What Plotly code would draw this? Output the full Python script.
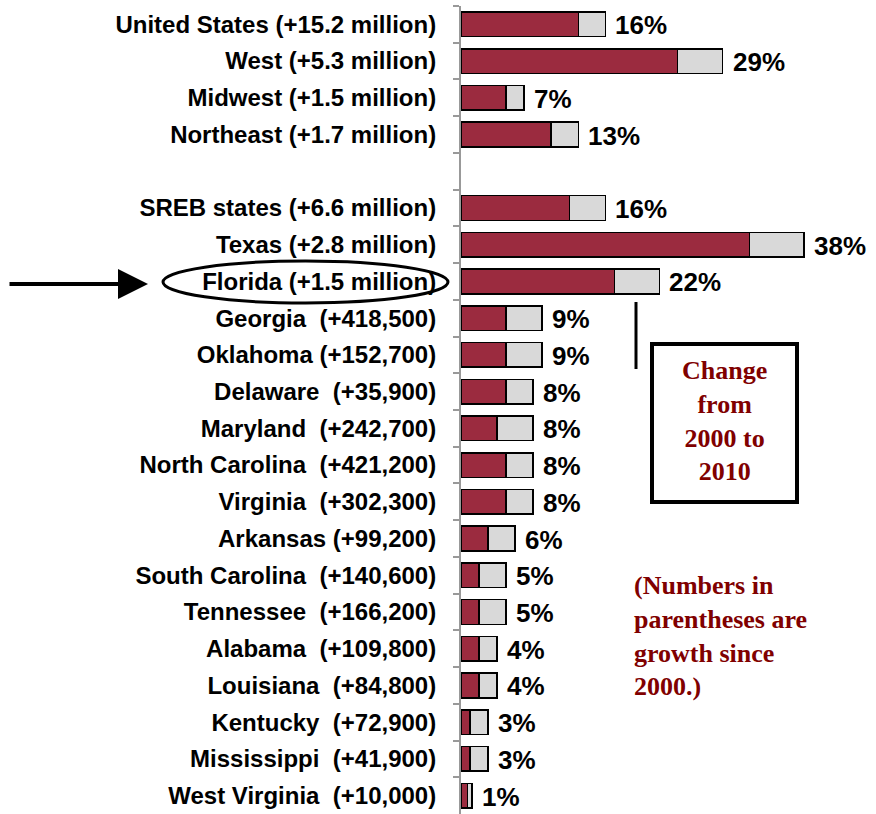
import plotly.graph_objects as go

categories = [
    "United States (+15.2 million)", "West (+5.3 million)", "Midwest (+1.5 million)",
    "Northeast (+1.7 million)", " ",
    "SREB states (+6.6 million)", "Texas (+2.8 million)", "Florida (+1.5 million)",
    "Georgia\u00a0 (+418,500)", "Oklahoma (+152,700)", "Delaware\u00a0 (+35,900)",
    "Maryland\u00a0 (+242,700)", "North Carolina\u00a0 (+421,200)", "Virginia\u00a0 (+302,300)",
    "Arkansas (+99,200)", "South Carolina\u00a0 (+140,600)", "Tennessee\u00a0 (+166,200)",
    "Alabama\u00a0 (+109,800)", "Louisiana\u00a0 (+84,800)", "Kentucky\u00a0 (+72,900)",
    "Mississippi\u00a0 (+41,900)", "West Virginia\u00a0 (+10,000)",
]
red_part = [13, 24, 5, 10, None, 12, 32, 17, 5, 5, 5, 4, 5, 5, 3, 2, 2, 2, 2, 1, 1, 0.7]
gray_part = [3, 5, 2, 3, None, 4, 6, 5, 4, 4, 3, 4, 3, 3, 3, 3, 3, 2, 2, 2, 2, 0.5]
pct_labels = ["16%", "29%", "7%", "13%", "", "16%", "38%", "22%", "9%", "9%", "8%",
              "8%", "8%", "8%", "6%", "5%", "5%", "4%", "4%", "3%", "3%", "1%"]

totals = [None if r is None else r + g for r, g in zip(red_part, gray_part)]

W, H = 876, 814
L, T = 461, 6
PW, PH = W - L, H - T


def px(x):
    return (x - L) / PW


def py(y):
    return (H - y) / PH


fig = go.Figure()
fig.add_trace(go.Bar(y=categories, x=red_part, orientation="h", width=0.67,
                     marker=dict(color="#9B2B3F", line=dict(color="black", width=1.5)),
                     hoverinfo="skip"))
fig.add_trace(go.Bar(y=categories, x=gray_part, orientation="h", width=0.67,
                     marker=dict(color="#D9D9D9", line=dict(color="black", width=1.5)),
                     hoverinfo="skip"))

label_annotations = [
    dict(x=t, y=c, xref="x", yref="y", text=lab, showarrow=False, xanchor="left",
         yanchor="middle", xshift=8, yshift=-1,
         font=dict(family="Liberation Sans", size=26, color="black", weight="bold"))
    for c, t, lab in zip(categories, totals, pct_labels) if t is not None
]

fig.update_layout(
    width=W, height=H, barmode="stack", showlegend=False,
    margin=dict(l=L, r=0, t=T, b=0, autoexpand=False),
    plot_bgcolor="white", paper_bgcolor="white",
    xaxis=dict(range=[0, 46], showticklabels=False, showgrid=False, zeroline=False,
               showline=False, ticks="", automargin=False),
    yaxis=dict(categoryorder="array", categoryarray=categories, autorange="reversed",
               tickson="boundaries", ticks="outside", ticklen=6, tickcolor="#999999",
               tickwidth=1.5, showline=True, linecolor="#999999", linewidth=2,
               showgrid=False, zeroline=False, ticklabelstandoff=18, automargin=False,
               tickfont=dict(family="Liberation Sans", size=24, color="black", weight="bold")),
    shapes=[
        dict(type="circle", xref="paper", yref="paper", x0=px(163), x1=px(448),
             y0=py(303), y1=py(261), line=dict(color="black", width=3)),
        dict(type="line", xref="paper", yref="paper", x0=px(636), x1=px(636),
             y0=py(369), y1=py(302), line=dict(color="black", width=3)),
        dict(type="rect", xref="paper", yref="paper", x0=px(652), x1=px(797),
             y0=py(502), y1=py(344), line=dict(color="black", width=4)),
    ],
    annotations=label_annotations + [
        dict(x=px(148), y=py(284), xref="paper", yref="paper", text="", showarrow=True,
             ax=-140, ay=0, arrowhead=2, arrowwidth=4, arrowsize=1.5, arrowcolor="black",
             standoff=0),
        dict(x=px(724), y=py(421), xref="paper", yref="paper", showarrow=False,
             text="Change<br>from<br>2000 to<br>2010", align="center",
             xanchor="center", yanchor="middle",
             font=dict(family="Liberation Serif", size=26, color="#800000", weight="bold")),
        dict(x=px(632), y=py(636), xref="paper", yref="paper", showarrow=False,
             text="(Numbers in<br>parentheses are<br>growth since<br>2000.)", align="left",
             xanchor="left", yanchor="middle",
             font=dict(family="Liberation Serif", size=26, color="#800000", weight="bold")),
    ],
)

fig.write_html("out.html", config={"displayModeBar": False},
               post_script="document.body.style.margin='0';")
